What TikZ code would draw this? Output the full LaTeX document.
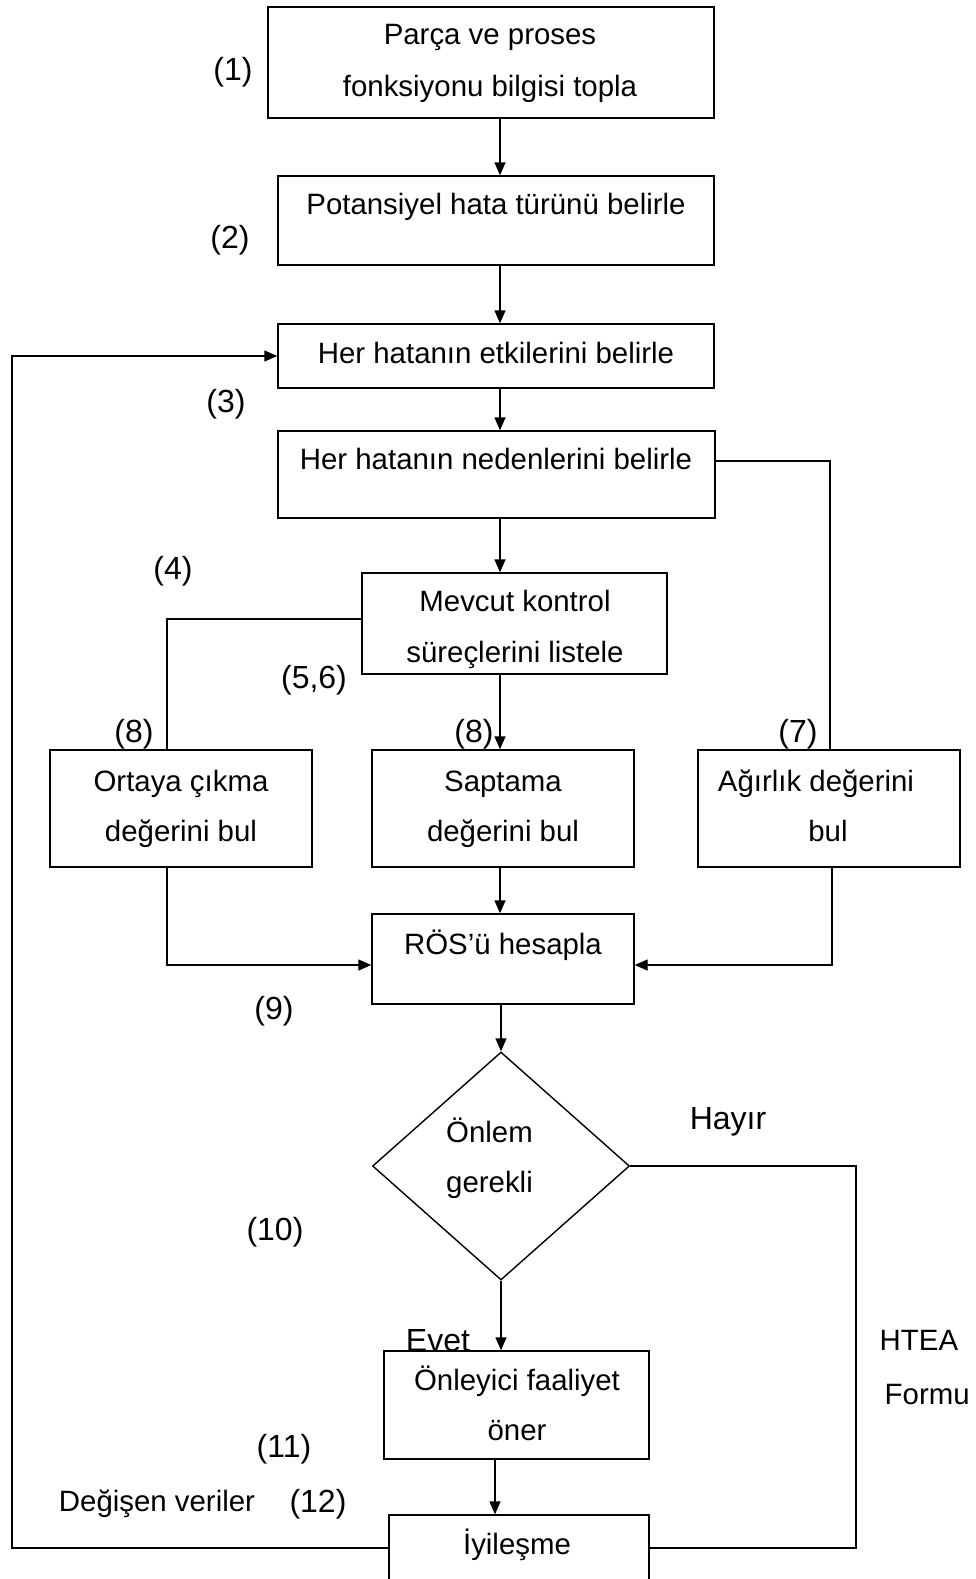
\documentclass[tikz,border=0pt]{standalone}
\usepackage{fontspec}
\setmainfont{Liberation Sans}
\usetikzlibrary{arrows.meta,shapes.geometric}
\begin{document}
\begin{tikzpicture}[x=1pt,y=-1pt,line width=1.4pt,
  box/.style={draw,rectangle,inner sep=0pt},
  txt/.style={anchor=base,inner sep=0pt,font=\fontsize{29.4}{34}\selectfont},
  lbl/.style={anchor=base,inner sep=0pt,font=\fontsize{32}{36}\selectfont},
  ltxt/.style={anchor=base west,inner sep=0pt,font=\fontsize{29.4}{34}\selectfont},
  arr/.style={-{Triangle[length=13pt,width=11pt]}}]
\clip (0,0) rectangle (976,1579);
\fill[white] (0,0) rectangle (976,1579);
% boxes
\node[box,minimum width=446pt,minimum height=111pt] (b1) at (491,62.5) {};
\node[box,minimum width=436pt,minimum height=89pt] (b2) at (496,220.5) {};
\node[box,minimum width=436pt,minimum height=64pt] (b3) at (496,356) {};
\node[box,minimum width=437pt,minimum height=87pt] (b4) at (496.5,474.5) {};
\node[box,minimum width=305pt,minimum height=101pt] (b5) at (514.5,623.5) {};
\node[box,minimum width=262pt,minimum height=117pt] (b6) at (181,808.5) {};
\node[box,minimum width=262pt,minimum height=117pt] (b7) at (503,808.5) {};
\node[box,minimum width=262pt,minimum height=117pt] (b8) at (829,808.5) {};
\node[box,minimum width=262pt,minimum height=90pt] (b9) at (503,959) {};
\node[draw,diamond,inner sep=0pt,minimum width=257pt,minimum height=228pt] (d) at (501,1166) {};
\node[box,minimum width=265pt,minimum height=108pt] (b10) at (516.5,1405) {};
\node[box,minimum width=260pt,minimum height=100pt] (b11) at (519,1565) {};
% box texts
\node[txt] (t1a) at (490,45) {Parça ve proses};
\node[txt] (t1b) at (490,96) {fonksiyonu bilgisi topla};
\node[txt] (t2) at (496,214) {Potansiyel hata türünü belirle};
\node[txt] (t3) at (496,363) {Her hatanın etkilerini belirle};
\node[txt] (t4) at (496,469) {Her hatanın nedenlerini belirle};
\node[txt] (t5a) at (515,611) {Mevcut kontrol};
\node[txt] (t5b) at (515,662) {süreçlerini listele};
\node[txt] (t6a) at (181,791) {Ortaya çıkma};
\node[txt] (t6b) at (181,841) {değerini bul};
\node[txt] (t7a) at (503,791) {Saptama};
\node[txt] (t7b) at (503,841) {değerini bul};
\node[txt] (t8a) at (816,791) {Ağırlık değerini};
\node[txt] (t8b) at (828,841) {bul};
\node[txt] (t9) at (503,954) {RÖS’ü hesapla};
\node[txt] (tda) at (489.5,1142) {Önlem};
\node[txt] (tdb) at (489.5,1192) {gerekli};
\node[txt] (t10a) at (517,1390) {Önleyici faaliyet};
\node[txt] (t10b) at (517,1440) {öner};
\node[txt] (t11) at (517,1554) {İyileşme};
% labels
\node[lbl] (n1) at (233,81) {(1)};
\node[lbl] (n2) at (230,248) {(2)};
\node[lbl] (n3) at (226,412) {(3)};
\node[lbl] (n4) at (173,579) {(4)};
\node[lbl] (n56) at (314,688) {(5,6)};
\node[lbl] (n8a) at (134,742) {(8)};
\node[lbl] (n8b) at (474,742) {(8)};
\node[lbl] (n7) at (798,742) {(7)};
\node[lbl] (n9) at (274,1019) {(9)};
\node[lbl] (n10) at (275,1240) {(10)};
\node[lbl] (hayir) at (728,1129) {Hayır};
\node[lbl] (evet) at (438,1351) {Evet};
\node[ltxt] (htea) at (879,1350) {HTEA};
\node[ltxt] (formu) at (884,1404) {Formu};
\node[lbl] (n11) at (284,1457) {(11)};
\node[txt] (deg) at (157,1511) {Değişen veriler};
\node[lbl] (n12) at (318,1512) {(12)};
% connectors
\coordinate (ax) at (500,0);
\coordinate (ax2) at (495,0);
\draw[arr] (b1.south -| ax) -- (b2.north -| ax);
\draw[arr] (b2.south -| ax) -- (b3.north -| ax);
\draw[arr] (b3.south -| ax) -- (b4.north -| ax);
\draw[arr] (b4.south -| ax) -- (b5.north -| ax);
\draw[arr] (b5.south -| ax) -- (b7.north -| ax);
\draw[arr] (b7.south -| ax) -- (b9.north -| ax);
\draw[arr] (b9.south -| d.north) -- (d.north);
\draw[arr] (d.south) -- (b10.north -| d.south);
\draw[arr] (b10.south -| ax2) -- (b11.north -| ax2);
\coordinate (r1) at (830,461);
\draw (b4.east |- r1) -| (b8.north -| r1);
\coordinate (l1) at (167,619);
\draw (b5.west |- l1) -| (b6.north -| l1);
\coordinate (l2) at (167,965);
\draw[arr] (b6.south -| l2) |- (b9.west |- l2);
\coordinate (r2) at (832,965);
\draw[arr] (b8.south -| r2) |- (b9.east |- r2);
\coordinate (r3) at (856,1548);
\draw (d.east) -| (r3) -- (b11.east |- r3);
\coordinate (l3) at (12,1548);
\draw[arr] (b11.west |- l3) -- (l3) |- (b3.west);
\end{tikzpicture}
\end{document}
